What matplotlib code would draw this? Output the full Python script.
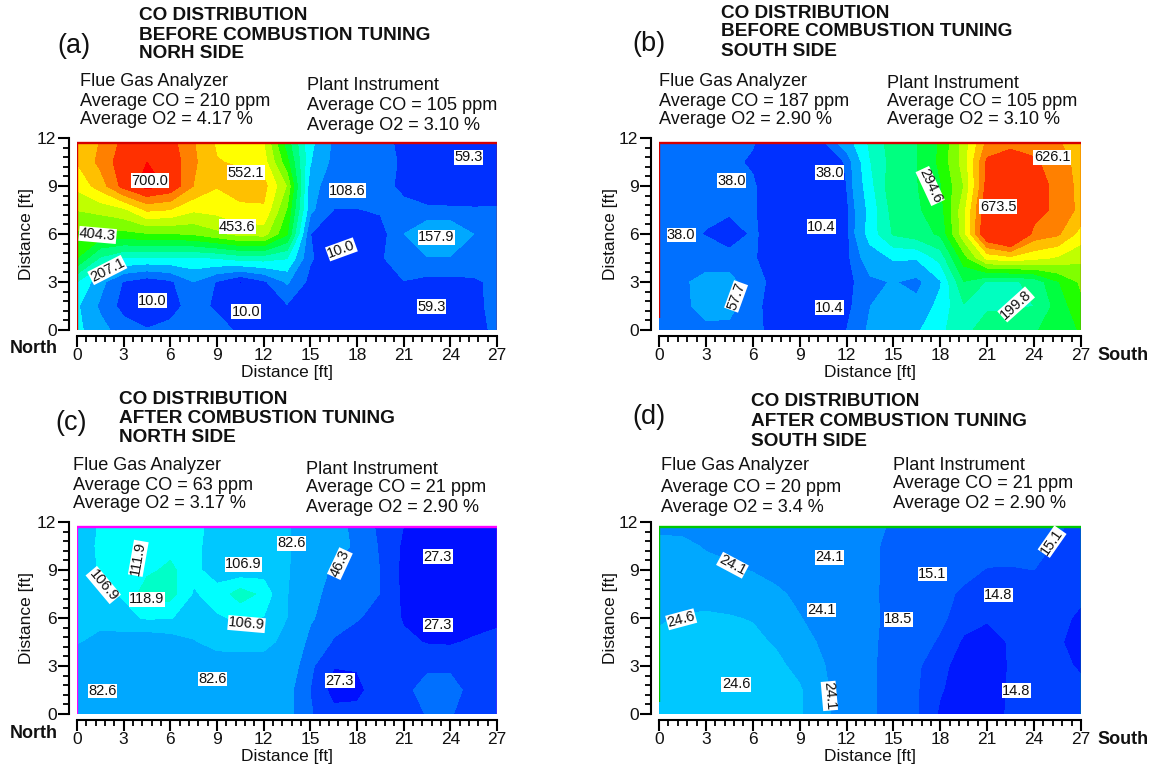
import numpy as np
import matplotlib
matplotlib.use('Agg')
import matplotlib.pyplot as plt
from matplotlib.ticker import MultipleLocator

plt.rcParams['font.family'] = ['Liberation Sans', 'DejaVu Sans']

W, H = 1154, 767
x_ft = [0, 1.5, 3, 4.5, 6, 7.5, 9, 10.5, 12, 13.5, 15, 16.5, 18, 19.5, 21, 22.5, 24, 25.5, 27]
y_ft = [0, 1.5, 3, 4.5, 6, 7.5, 9, 10.5, 11.66]

co_a = [
 [170,125,85,62,70,88,75,52,45,58,59,45,40,40,40,40,42,50,65],
 [165,100,40,25,45,75,52,20,25,55,40,30,30,30,35,30,35,50,70],
 [207,125,55,30,50,108,55,8,50,115,45,30,30,40,58,45,45,52,70],
 [355,250,205,200,200,200,210,230,230,210,65,25,30,55,80,105,105,90,80],
 [395,385,390,400,400,410,440,470,475,360,60,12,15,38,108,165,165,108,85],
 [455,470,490,560,550,510,520,540,545,400,120,58,57,65,68,63,63,62,62],
 [515,575,670,720,690,600,555,575,570,450,125,85,90,70,52,45,40,40,42],
 [555,615,680,700,685,610,555,545,525,370,160,95,80,70,55,40,40,40,45],
 [550,605,665,690,670,605,545,520,505,330,170,100,80,65,55,45,45,45,50],
]
co_b = [
 [40,42,50,48,34,25,15,15,30,63,85,98,140,190,215,225,243,265,300],
 [38,50,70,70,35,22,15,15,22,57,85,70,120,195,195,192,200,265,330],
 [36,52,70,70,36,25,15,15,20,50,60,45,100,245,195,190,215,290,350],
 [36,40,40,38,32,20,15,15,22,80,110,110,170,320,450,470,450,430,400],
 [37,35,29,18,33,20,15,15,20,125,205,225,255,420,640,700,560,540,465],
 [38,36,34,34,32,18,15,15,22,120,220,240,275,420,630,700,610,560,520],
 [38,36,34,34,32,18,15,15,30,135,235,245,290,390,600,690,620,555,520],
 [38,36,34,33,28,18,15,15,32,150,220,245,305,410,590,620,590,545,520],
 [38,35,34,33,31,20,20,22,80,160,225,245,300,410,545,560,550,535,515],
]
co_c = [
 [78,78,78,78,78,78,78,78,78,72,48,33,33,38,40,47,47,42,40],
 [80,80,80,78,78,78,78,78,78,72,46,20,22,38,40,55,55,38,40],
 [82,85,85,83,82,84,88,88,87,80,50,28,29,40,40,42,42,40,40],
 [96,90,88,85,88,94,99,100,100,90,58,45,42,44,32,26,25,30,33],
 [98,100,104,108,107.5,102,106,108,106.5,95,68,52,47,43,25,20,18,18,23],
 [100,104,108,120,118,106,110,119,113,96,72,57,52,46,23,20,18,18,20],
 [100,108,110,113,117,109,103,101,103,98,72,63,55,46,22,20,18,18,20],
 [100,109,110,112,112,109,103,100,100,97,85,72,62,44,24,20,18,18,20],
 [100,108,110,112,112,110,103,100,100,97,85,72,60,42,27,20,20,20,20],
]
co_d = [
 [24.5,24.5,24.5,24.5,24.4,24.2,23.7,21.9,20.6,19,17.2,16.1,14.6,14.2,14.2,15,15.2,15.3,15.2],
 [24.4,24.4,24.4,24.4,24.3,24.1,23.7,21.8,20.6,19,17.2,16.1,14.9,14.2,14.2,14.95,15.1,15.2,15],
 [24.2,24.2,24.2,24.2,24.1,23.9,23,21.6,20.5,19,17.2,16.2,15.1,14.3,14.2,14.9,15,15,14.7],
 [23.9,24,24,24,23.9,23.3,22.2,21.2,20.3,19,17.5,16.6,15.8,14.6,14.4,14.9,15,14.9,14.5],
 [23.3,23.6,23.7,23.6,23.4,22.5,21.6,20.6,20,19,17.8,17,16.3,15.3,14.9,15,15.2,15.1,14.6],
 [23,23,23,22.8,22.5,21.9,21,20.3,19.8,18.9,17.8,17,16.5,15.7,15.4,15.4,15.4,15.3,15],
 [22.8,22.6,22.2,21.8,21.4,20.8,20.4,20.2,20,19,17.8,17.5,17,16.5,15.9,15.9,16,15.5,15.2],
 [22.2,22,21.3,21,20.8,20.5,20.5,20.3,20,19,17.8,17.5,17.5,17,16.8,16.5,16.5,15.8,15.5],
 [21,21,21,21,21,21,21,21,20.5,19.5,18,17.5,17.5,17,17,16.8,16.6,16.2,15.5],
]

levels_a = [0,10,59.3,108.6,157.9,207.1,256.4,305.7,355,404.3,453.6,502.8,552.1,601.4,650.7,700,800]
levels_b = [0,5,30,57.7,105.1,152.5,199.8,247.2,294.6,341.9,389.3,436.7,484,531.4,578.8,800]
levels_c = [0,27.3,46.3,65,95,106.9,115,125]
levels_d = [10,14.8,16,18.5,21.5,23.5,27]

rainbow = ['#0000ff','#0030ff','#0070ff','#00a8ff','#00ffff','#00ffc0','#00ff80','#00ff40',
           '#20ff00','#80ff00','#c0ff00','#ffff00','#ffc000','#ff8000','#ff3000','#ff0000']
colors_a = rainbow
colors_b = rainbow[:15]
colors_c = ['#0010ff','#0040ff','#0070ff','#00a8ff','#00c8ff','#00ffff','#00ffc8']
colors_d = ['#0018ff','#0040ff','#0060ff','#0088ff','#00a8ff','#00c8ff']

labels_a = [(4.7,9.33,'700.0',0),(10.86,9.83,'552.1',0),(17.4,8.7,'108.6',0),(25.15,10.8,'59.3',0),
            (10.3,6.46,'453.6',0),(1.33,5.94,'404.3',-5),(23.1,5.8,'157.9',0),(17,5.04,'10.0',20),
            (1.95,3.75,'207.1',27),(4.84,1.83,'10.0',0),(10.86,1.15,'10.0',0),(22.8,1.46,'59.3',0)]
labels_b = [(25.15,10.8,'626.1',0),(10.9,9.83,'38.0',0),(4.65,9.33,'38.0',0),(17.35,9,'294.6',-65),
            (21.7,7.7,'673.5',0),(10.4,6.46,'10.4',0),(1.42,5.94,'38.0',0),(4.93,2.1,'57.7',70),
            (10.9,1.4,'10.4',0),(22.85,1.6,'199.8',42)]
labels_c = [(3.94,9.73,'111.9',80),(13.8,10.67,'82.6',0),(10.7,9.37,'106.9',0),(23.2,9.83,'27.3',0),
            (16.9,9.4,'46.3',65),(1.69,8.06,'106.9',-50),(4.5,7.17,'118.9',0),(10.9,5.62,'106.9',-5),
            (23.2,5.56,'27.3',0),(8.7,2.19,'82.6',0),(16.9,2.08,'27.3',0),(1.63,1.44,'82.6',0)]
labels_d = [(25.15,10.77,'15.1',55),(10.9,9.8,'24.1',0),(4.7,9.3,'24.1',-28),(17.5,8.75,'15.1',0),
            (21.7,7.44,'14.8',0),(1.42,5.92,'24.6',15),(10.4,6.5,'24.1',0),(15.3,5.92,'18.5',0),
            (4.93,1.85,'24.6',0),(10.9,1.13,'24.1',-85),(22.85,1.46,'14.8',0)]

title_a = ['CO DISTRIBUTION','BEFORE COMBUSTION TUNING','NORH SIDE']
title_b = ['CO DISTRIBUTION','BEFORE COMBUSTION TUNING','SOUTH SIDE']
title_c = ['CO DISTRIBUTION','AFTER COMBUSTION TUNING','NORTH SIDE']
title_d = ['CO DISTRIBUTION','AFTER COMBUSTION TUNING','SOUTH SIDE']
flue_a = ['Flue Gas Analyzer','Average CO = 210 ppm','Average O2 = 4.17 %']
flue_b = ['Flue Gas Analyzer','Average CO = 187 ppm','Average O2 = 2.90 %']
flue_c = ['Flue Gas Analyzer','Average CO = 63 ppm','Average O2 = 3.17 %']
flue_d = ['Flue Gas Analyzer','Average CO = 20 ppm','Average O2 = 3.4 %']
plant_ab = ['Plant Instrument','Average CO = 105 ppm','Average O2 = 3.10 %']
plant_cd = ['Plant Instrument','Average CO = 21 ppm','Average O2 = 2.90 %']

fig = plt.figure(figsize=(W/100, H/100), dpi=100)

def ftext(px, py, s, **kw):
    fig.text(px/W, 1-py/H, s, va='center', ha=kw.pop('ha','left'), **kw)

def panel(x0, x1, y12, y0, z, levels, colors, labels, frame, fstart, letter, lpos, title, tx, tys,
          flue, fx, fys, plant, px, pys, ylab_x, side, spos):
    ax = fig.add_axes([x0/W, 1-y0/H, (x1-x0)/W, (y0-y12)/H])
    ax.contourf(x_ft, y_ft, np.array(z), levels=levels, colors=colors)
    ax.set_xlim(0, 27); ax.set_ylim(0, 12)
    top = y_ft[-1]
    ax.plot([0, 0, 27], [fstart, top, top], color=frame, lw=1.7, solid_capstyle='butt', zorder=5)
    ax.plot([27, 27], [top, 0], color=frame, lw=1.0, zorder=5)
    ax.patch.set_alpha(0)
    for s in ('top', 'right'):
        ax.spines[s].set_visible(False)
    ax.spines['left'].set_position(('outward', 8*0.72))
    ax.spines['bottom'].set_position(('outward', 6*0.72))
    for s in ('left', 'bottom'):
        ax.spines[s].set_linewidth(1.5)
    ax.xaxis.set_major_locator(MultipleLocator(3)); ax.xaxis.set_minor_locator(MultipleLocator(0.6))
    ax.yaxis.set_major_locator(MultipleLocator(3)); ax.yaxis.set_minor_locator(MultipleLocator(0.6))
    ax.tick_params(which='major', length=8, width=1.5, labelsize=12.5, pad=1.0, labelcolor='#111111')
    ax.tick_params(which='minor', length=4.5, width=1.3)
    for xv, yv, s, r in labels:
        ax.text(xv, yv, s, rotation=r, ha='center', va='center', fontsize=10.5, color='#111111', zorder=6,
                bbox=dict(facecolor='white', edgecolor='none', pad=0.3))
    ftext((x0+x1)/2, y0+42, 'Distance [ft]', ha='center', fontsize=12.5, color='#111111')
    ftext(ylab_x, (y0+y12)/2, 'Distance [ft]', ha='center', rotation=90, fontsize=12.5, color='#111111')
    ftext(lpos[0], lpos[1], letter, fontsize=19.5, color='#111111')
    for yy, s in zip(tys, title):
        ftext(tx, yy, s, fontsize=13.7, fontweight='bold', color='#111111')
    for yy, s in zip(fys, flue):
        ftext(fx, yy, s, fontsize=13.1, color='#111111')
    for yy, s in zip(pys, plant):
        ftext(px, yy, s, fontsize=13.1, color='#111111')
    ftext(spos[0], spos[1], side, fontsize=13, fontweight='bold', color='#111111')

panel(77, 497, 138, 330, co_a, levels_a, colors_a, labels_a, '#d40000', 0, '(a)', (57, 46),
      title_a, 139, (15, 35, 53), flue_a, 80, (82, 102, 120), plant_ab, 307, (86, 106, 125), 27, 'North', (10, 349))
panel(659, 1081, 138, 330, co_b, levels_b, colors_b, labels_b, '#d40000', 0.75, '(b)', (632, 44),
      title_b, 721, (13, 32, 51), flue_b, 659, (82, 102, 120), plant_ab, 887, (83, 102, 120), 610, 'South', (1097, 355))
panel(77, 497, 522, 714, co_c, levels_c, colors_c, labels_c, '#ff00ff', 0, '(c)', (55, 423),
      title_c, 119, (399, 418, 437), flue_c, 73, (465, 485, 504), plant_cd, 306, (469, 488, 507), 27, 'North', (10, 733))
panel(659, 1081, 522, 714, co_d, levels_d, colors_d, labels_d, '#00c800', 0.75, '(d)', (632, 417),
      title_d, 751, (401, 421, 441), flue_d, 661, (466, 487, 507), plant_cd, 893, (465, 484, 504), 610, 'South', (1097, 739))

fig.savefig('out.png', dpi=100, facecolor='white')
